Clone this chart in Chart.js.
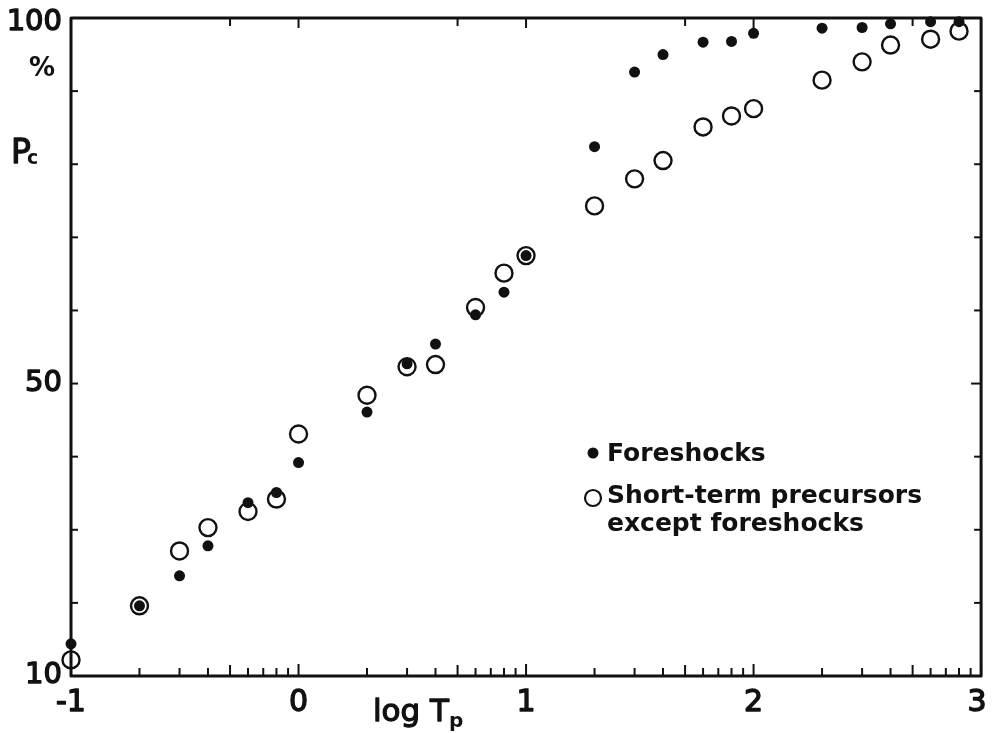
<!DOCTYPE html>
<html>
<head>
<meta charset="utf-8">
<script src="https://cdn.jsdelivr.net/npm/chart.js@4/dist/chart.umd.min.js"></script>
<style>
  html, body { margin: 0; padding: 0; background: #fff; }
  #wrap { width: 992px; height: 733px; position: relative; }
</style>
</head>
<body>
<div id="wrap"><canvas id="c" width="992" height="733"></canvas></div>
<script>
// ---- data (log Tp, Pc %) ----
const logTp = [-1, -0.699, -0.523, -0.398, -0.222, -0.097, 0, 0.301, 0.477, 0.602, 0.778, 0.903, 1,
               1.301, 1.477, 1.602, 1.778, 1.903, 2, 2.301, 2.477, 2.602, 2.778, 2.903];
const foreshocks = [14.4, 19.6, 23.7, 27.8, 33.7, 35.1, 39.2, 46.1, 52.7, 55.4, 59.4, 62.5, 67.5,
                    82.4, 92.6, 95.0, 96.7, 96.8, 97.9, 98.6, 98.7, 99.2, 99.5, 99.5];
const shortTerm = [12.2, 19.6, 27.1, 30.3, 32.5, 34.2, 43.1, 48.4, 52.3, 52.6, 60.4, 65.1, 67.5,
                   74.3, 78.0, 80.5, 85.1, 86.6, 87.6, 91.5, 94.0, 96.3, 97.1, 98.2];
const seriesNames = ['Foreshocks', 'Short-term precursors', 'except foreshocks'];

// ---- axes ----
const xTickValues = [-1, 0, 1, 2, 3];
const xTickLabels = ['-1', '0', '1', '2', '3'];
const xMinorFractions = [0.301, 0.477, 0.602, 0.699, 0.778, 0.845, 0.903, 0.954];
const xTopFractions = [0, 0.699];
const yTickValues = [10, 20, 30, 40, 50, 60, 70, 80, 90, 100];
const yLabelValues = [10, 50, 100];
const yTickLabels = ['10', '50', '100'];

const FONT = '"DejaVu Sans", "Liberation Sans", sans-serif';

function boldText(ctx, s, x, y, w) {
  ctx.lineWidth = w;
  ctx.strokeText(s, x, y);
  ctx.fillText(s, x, y);
}

const axesPlugin = {
  id: 'paperAxes',
  afterDraw(chart) {
    const ctx = chart.ctx;
    const xs = chart.scales.x, ys = chart.scales.y;
    const L = xs.getPixelForValue(-1), R = xs.getPixelForValue(3);
    const T = ys.getPixelForValue(100), B = ys.getPixelForValue(10);
    ctx.save();
    ctx.strokeStyle = '#111';
    ctx.fillStyle = '#111';
    ctx.lineCap = 'butt';
    ctx.lineJoin = 'round';
    // frame
    ctx.lineWidth = 3;
    ctx.beginPath();
    ctx.moveTo(L, T); ctx.lineTo(R, T); ctx.lineTo(R, B); ctx.lineTo(L, B); ctx.closePath();
    ctx.stroke();
    // bottom ticks
    ctx.lineWidth = 2;
    for (let d = -1; d < 3; d++) {
      xMinorFractions.forEach(f => {
        const px = xs.getPixelForValue(d + f);
        const len = (f === 0.699) ? 11 : 8;
        ctx.beginPath(); ctx.moveTo(px, B); ctx.lineTo(px, B - len); ctx.stroke();
      });
    }
    xTickValues.forEach(v => {
      const px = xs.getPixelForValue(v);
      ctx.beginPath(); ctx.moveTo(px, B); ctx.lineTo(px, B - 12); ctx.stroke();
    });
    // top ticks
    for (let d = -1; d < 3; d++) {
      xTopFractions.forEach(f => {
        const v = d + f;
        if (v <= -1) return;
        const px = xs.getPixelForValue(v);
        const len = f === 0 ? 10 : 8;
        ctx.beginPath(); ctx.moveTo(px, T); ctx.lineTo(px, T + len); ctx.stroke();
      });
    }
    // left & right ticks
    yTickValues.forEach(v => {
      if (v === 10 || v === 100) return;
      const py = ys.getPixelForValue(v);
      const len = v === 50 ? 10 : 7;
      ctx.beginPath(); ctx.moveTo(L, py); ctx.lineTo(L + 7, py); ctx.stroke();
      ctx.beginPath(); ctx.moveTo(R, py); ctx.lineTo(R - len, py); ctx.stroke();
    });
    // y labels
    ctx.font = '29px ' + FONT;
    ctx.textAlign = 'right';
    ctx.textBaseline = 'middle';
    yLabelValues.forEach((v, i) => {
      let py = ys.getPixelForValue(v);
      if (v === 100) py += 4;
      if (v === 10) py -= 1;
      boldText(ctx, yTickLabels[i], L - 9, py, 1.4);
    });
    // x labels
    ctx.font = '30px ' + FONT;
    ctx.textAlign = 'center';
    ctx.textBaseline = 'top';
    xTickValues.forEach((v, i) => {
      let px = xs.getPixelForValue(v);
      if (v === 3) px = Math.min(px, 977);
      boldText(ctx, xTickLabels[i], px, B + 12, 1.4);
    });
    // x title: log Tp
    ctx.textAlign = 'left';
    ctx.textBaseline = 'alphabetic';
    ctx.font = '31px ' + FONT;
    boldText(ctx, 'log T', 373, 721, 1.3);
    const w = ctx.measureText('log T').width;
    ctx.font = 'bold 20px ' + FONT;
    ctx.fillText('p', 373 + w, 727);
    // y title: % and Pc
    ctx.font = 'bold 26px ' + FONT;
    ctx.textAlign = 'center';
    ctx.fillText('%', 42, 76);
    ctx.font = '33px ' + FONT;
    ctx.textAlign = 'left';
    boldText(ctx, 'P', 11, 163, 1.3);
    ctx.font = 'bold 19px ' + FONT;
    ctx.fillText('c', 27, 164);
    // legend
    ctx.font = 'bold 25px ' + FONT;
    ctx.textBaseline = 'middle';
    ctx.fillText(seriesNames[0], 607, 454);
    ctx.fillText(seriesNames[1], 607, 496);
    ctx.fillText(seriesNames[2], 607, 524);
    ctx.beginPath(); ctx.arc(593, 453, 5.5, 0, Math.PI * 2); ctx.fill();
    ctx.lineWidth = 2.2;
    ctx.beginPath(); ctx.arc(593, 498, 8, 0, Math.PI * 2); ctx.stroke();
    ctx.restore();
  }
};

const toPts = (ys) => logTp.map((x, i) => ({ x, y: ys[i] }));

new Chart(document.getElementById('c'), {
  type: 'scatter',
  data: {
    datasets: [
      {
        label: seriesNames[0],
        data: toPts(foreshocks),
        pointStyle: 'circle',
        pointRadius: 5.5,
        pointBackgroundColor: '#111',
        pointBorderColor: '#111',
        pointBorderWidth: 0,
        clip: false,
        order: 1
      },
      {
        label: seriesNames[1] + ' ' + seriesNames[2],
        data: toPts(shortTerm),
        pointStyle: 'circle',
        pointRadius: 8.5,
        pointBackgroundColor: 'rgba(0,0,0,0)',
        pointBorderColor: '#111',
        pointBorderWidth: 2.4,
        clip: false,
        order: 2
      }
    ]
  },
  options: {
    responsive: false,
    animation: false,
    events: [],
    layout: { padding: { left: 71, right: 10, top: 18, bottom: 57 } },
    plugins: { legend: { display: false }, tooltip: { enabled: false } },
    scales: {
      x: { type: 'linear', min: -1, max: 3, display: false },
      y: { type: 'linear', min: 10, max: 100, display: false }
    }
  },
  plugins: [axesPlugin]
});
</script>
</body>
</html>
